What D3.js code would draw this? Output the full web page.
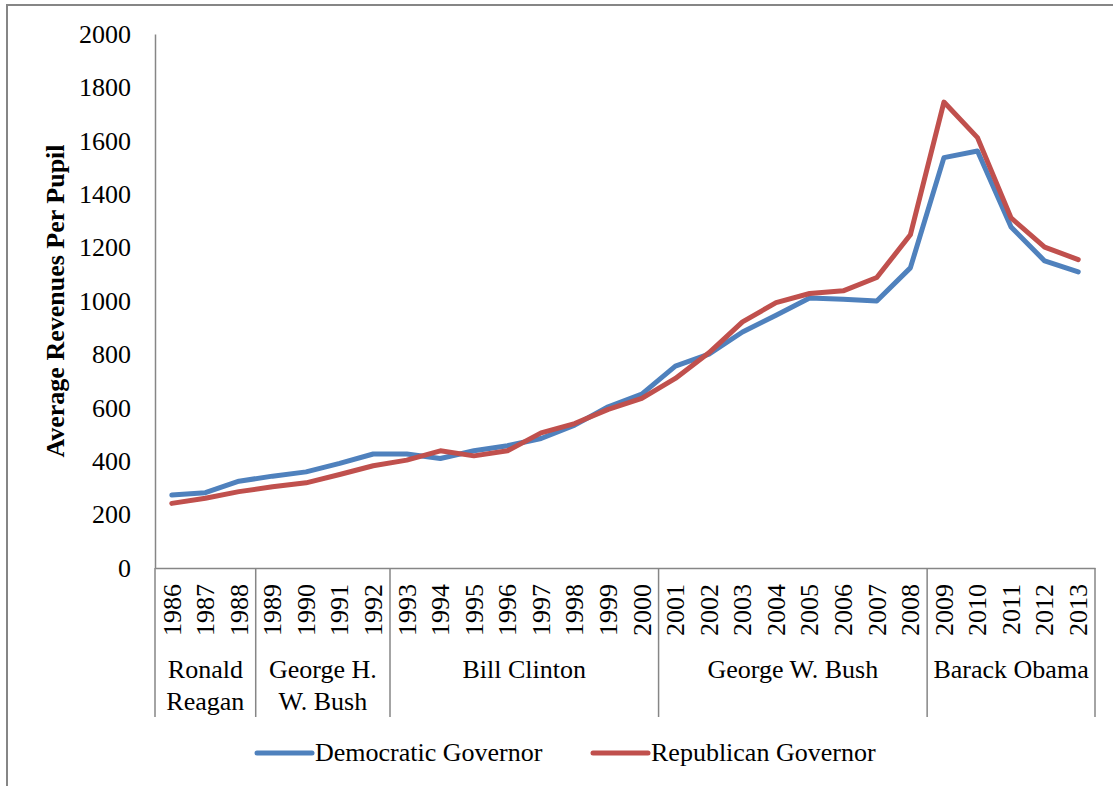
<!DOCTYPE html>
<html>
<head>
<meta charset="utf-8">
<script src="https://cdn.jsdelivr.net/npm/d3@7"></script>
<style>
  html, body { margin: 0; padding: 0; background: #fff; }
  svg { display: block; font-family: "Liberation Serif", "Times New Roman", serif; }
</style>
</head>
<body>
<svg id="chart" width="1113" height="786"></svg>
<script>
// Average revenues per pupil, by party of the governor, 1986-2013
const years = [1986,1987,1988,1989,1990,1991,1992,1993,1994,1995,1996,1997,1998,1999,
               2000,2001,2002,2003,2004,2005,2006,2007,2008,2009,2010,2011,2012,2013];
const democratic = [273,282,325,344,360,392,427,427,410,439,458,485,535,604,
                    651,756,801,884,947,1011,1007,1000,1124,1537,1562,1277,1150,1109];
const republican = [242,261,286,304,319,350,383,404,439,420,439,506,541,594,
                    635,710,806,922,994,1028,1038,1088,1248,1745,1612,1311,1202,1155];
const yTicks = [0,200,400,600,800,1000,1200,1400,1600,1800,2000];

// presidential terms grouping the year categories
const presidents = [
  { lines: ["Ronald", "Reagan"], first: 1986, last: 1988 },
  { lines: ["George H.", "W. Bush"], first: 1989, last: 1992 },
  { lines: ["Bill Clinton"], first: 1993, last: 2000 },
  { lines: ["George W. Bush"], first: 2001, last: 2008 },
  { lines: ["Barack Obama"], first: 2009, last: 2013 }
];

const seriesList = [
  { name: "Democratic Governor", values: democratic, color: "#4F81BD" },
  { name: "Republican Governor", values: republican, color: "#C0504D" }
];

const svg = d3.select("#chart");
const axisColor = "#868686";
const fontSize = 26;

// outer chart frame
svg.append("rect")
  .attr("x", 7).attr("y", 5)
  .attr("width", 1200).attr("height", 900)
  .attr("fill", "none").attr("stroke", axisColor).attr("stroke-width", 2);

const plot = { left: 155, right: 1095, top: 34, bottom: 568 };

const x = d3.scaleBand().domain(years).range([plot.left, plot.right]).padding(0);
const y = d3.scaleLinear().domain([0, 2000]).range([plot.bottom, plot.top]);
const cx = yr => x(yr) + x.bandwidth() / 2;

// y axis
const yAxis = svg.append("g")
  .attr("transform", `translate(${plot.left},0)`)
  .call(d3.axisLeft(y).tickValues(yTicks).tickSize(0).tickSizeOuter(0).tickPadding(24).tickFormat(d3.format("d")));
yAxis.select(".domain").attr("stroke", axisColor).attr("stroke-width", 1.5);
yAxis.selectAll("text")
  .attr("font-family", "Liberation Serif, Times New Roman, serif")
  .attr("font-size", fontSize).attr("fill", "#000");

// x axis with rotated year labels
const xAxis = svg.append("g")
  .attr("transform", `translate(0,${plot.bottom})`)
  .call(d3.axisBottom(x).tickSize(0).tickSizeOuter(0));
xAxis.select(".domain").attr("stroke", axisColor).attr("stroke-width", 1.5);
xAxis.selectAll("text")
  .attr("font-family", "Liberation Serif, Times New Roman, serif")
  .attr("font-size", fontSize).attr("fill", "#000")
  .attr("transform", "rotate(-90)")
  .attr("text-anchor", "end")
  .attr("x", -16).attr("y", 0).attr("dy", "0.34em");

// president group separators and labels
const sepBottom = 717;
const boundaries = presidents.map(p => x(p.first)).concat([plot.right]);
svg.append("g").selectAll("line")
  .data(boundaries)
  .join("line")
  .attr("x1", d => d).attr("x2", d => d)
  .attr("y1", plot.bottom).attr("y2", sepBottom)
  .attr("stroke", axisColor).attr("stroke-width", 1.5);

const groupLabels = svg.append("g")
  .attr("font-size", fontSize).attr("text-anchor", "middle").attr("fill", "#000");
presidents.forEach(p => {
  const mid = (x(p.first) + x(p.last) + x.bandwidth()) / 2;
  p.lines.forEach((ln, i) => {
    groupLabels.append("text")
      .attr("x", mid).attr("y", 672 + i * 32)
      .attr("dominant-baseline", "middle")
      .text(ln);
  });
});

// y axis title
svg.append("text")
  .attr("transform", "translate(58,301) rotate(-90)")
  .attr("text-anchor", "middle").attr("dominant-baseline", "middle")
  .attr("font-size", fontSize).attr("font-weight", "bold").attr("fill", "#000")
  .text("Average Revenues Per Pupil");

// series lines
const line = d3.line().x((d, i) => cx(years[i])).y(d => y(d));
svg.append("g").selectAll("path")
  .data(seriesList)
  .join("path")
  .attr("d", s => line(s.values))
  .attr("fill", "none")
  .attr("stroke", s => s.color)
  .attr("stroke-width", 5)
  .attr("stroke-linejoin", "round")
  .attr("stroke-linecap", "round");

// legend
const legendItems = [
  { x0: 257, x1: 312, tx: 315 },
  { x0: 593, x1: 648, tx: 651 }
];
const legend = svg.append("g");
seriesList.forEach((s, i) => {
  const li = legendItems[i];
  legend.append("line")
    .attr("x1", li.x0).attr("x2", li.x1).attr("y1", 753).attr("y2", 753)
    .attr("stroke", s.color).attr("stroke-width", 5).attr("stroke-linecap", "round");
  legend.append("text")
    .attr("x", li.tx).attr("y", 755)
    .attr("dominant-baseline", "middle")
    .attr("font-size", fontSize).attr("fill", "#000")
    .text(s.name);
});
</script>
</body>
</html>
